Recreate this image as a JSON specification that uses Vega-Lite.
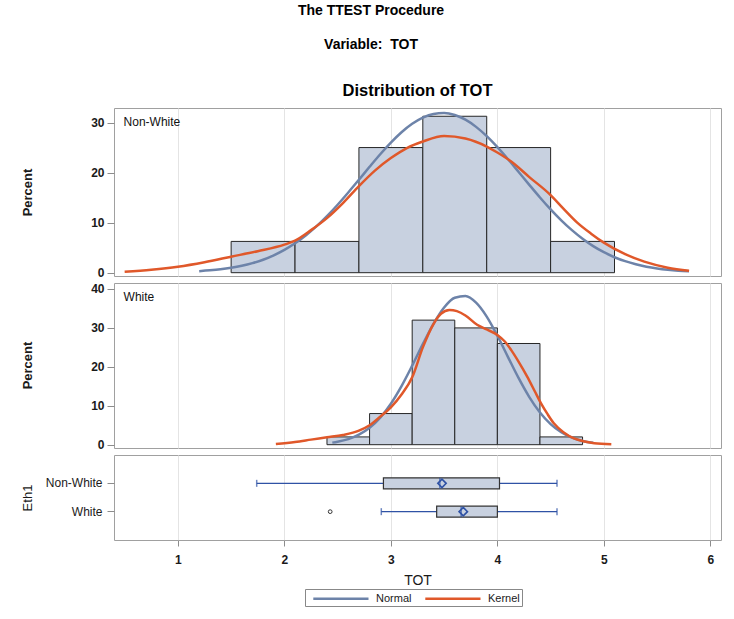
{
  "$schema": "https://vega.github.io/schema/vega-lite/v6.json",
  "padding": {"left": 20, "top": 4, "right": 10, "bottom": 10},
  "background": "white",
  "bounds": "flush",
  "title": {"text": ["The TTEST Procedure", "Variable:\u00a0 TOT"], "fontSize": 14, "fontWeight": "bold", "lineHeight": 34, "anchor": "middle", "frame": "bounds", "offset": 30, "color": "#000"},
  "datasets": {
    "hist": [
      {"g": "Non-White", "lo": 1.5, "hi": 2.1, "pct": 6.25},
      {"g": "Non-White", "lo": 2.1, "hi": 2.7, "pct": 6.25},
      {"g": "Non-White", "lo": 2.7, "hi": 3.3, "pct": 25},
      {"g": "Non-White", "lo": 3.3, "hi": 3.9, "pct": 31.25},
      {"g": "Non-White", "lo": 3.9, "hi": 4.5, "pct": 25},
      {"g": "Non-White", "lo": 4.5, "hi": 5.1, "pct": 6.25},
      {"g": "White", "lo": 2.4, "hi": 2.8, "pct": 2},
      {"g": "White", "lo": 2.8, "hi": 3.2, "pct": 8},
      {"g": "White", "lo": 3.2, "hi": 3.6, "pct": 32},
      {"g": "White", "lo": 3.6, "hi": 4.0, "pct": 30},
      {"g": "White", "lo": 4.0, "hi": 4.4, "pct": 26},
      {"g": "White", "lo": 4.4, "hi": 4.8, "pct": 2}
    ],
    "curves": [
      {"g": "Non-White", "c": "Normal", "x": 1.2, "y": 0.31},
      {"g": "Non-White", "c": "Normal", "x": 1.3, "y": 0.47},
      {"g": "Non-White", "c": "Normal", "x": 1.4, "y": 0.68},
      {"g": "Non-White", "c": "Normal", "x": 1.5, "y": 0.98},
      {"g": "Non-White", "c": "Normal", "x": 1.6, "y": 1.38},
      {"g": "Non-White", "c": "Normal", "x": 1.7, "y": 1.91},
      {"g": "Non-White", "c": "Normal", "x": 1.8, "y": 2.59},
      {"g": "Non-White", "c": "Normal", "x": 1.9, "y": 3.47},
      {"g": "Non-White", "c": "Normal", "x": 2.0, "y": 4.55},
      {"g": "Non-White", "c": "Normal", "x": 2.1, "y": 5.87},
      {"g": "Non-White", "c": "Normal", "x": 2.2, "y": 7.44},
      {"g": "Non-White", "c": "Normal", "x": 2.3, "y": 9.25},
      {"g": "Non-White", "c": "Normal", "x": 2.4, "y": 11.31},
      {"g": "Non-White", "c": "Normal", "x": 2.5, "y": 13.58},
      {"g": "Non-White", "c": "Normal", "x": 2.6, "y": 16.03},
      {"g": "Non-White", "c": "Normal", "x": 2.7, "y": 18.57},
      {"g": "Non-White", "c": "Normal", "x": 2.8, "y": 21.15},
      {"g": "Non-White", "c": "Normal", "x": 2.9, "y": 23.66},
      {"g": "Non-White", "c": "Normal", "x": 3.0, "y": 25.99},
      {"g": "Non-White", "c": "Normal", "x": 3.1, "y": 28.06},
      {"g": "Non-White", "c": "Normal", "x": 3.2, "y": 29.75},
      {"g": "Non-White", "c": "Normal", "x": 3.3, "y": 30.99},
      {"g": "Non-White", "c": "Normal", "x": 3.4, "y": 31.72},
      {"g": "Non-White", "c": "Normal", "x": 3.5, "y": 31.89},
      {"g": "Non-White", "c": "Normal", "x": 3.6, "y": 31.49},
      {"g": "Non-White", "c": "Normal", "x": 3.7, "y": 30.56},
      {"g": "Non-White", "c": "Normal", "x": 3.8, "y": 29.13},
      {"g": "Non-White", "c": "Normal", "x": 3.9, "y": 27.27},
      {"g": "Non-White", "c": "Normal", "x": 4.0, "y": 25.08},
      {"g": "Non-White", "c": "Normal", "x": 4.1, "y": 22.67},
      {"g": "Non-White", "c": "Normal", "x": 4.2, "y": 20.12},
      {"g": "Non-White", "c": "Normal", "x": 4.3, "y": 17.55},
      {"g": "Non-White", "c": "Normal", "x": 4.4, "y": 15.03},
      {"g": "Non-White", "c": "Normal", "x": 4.5, "y": 12.65},
      {"g": "Non-White", "c": "Normal", "x": 4.6, "y": 10.46},
      {"g": "Non-White", "c": "Normal", "x": 4.7, "y": 8.5},
      {"g": "Non-White", "c": "Normal", "x": 4.8, "y": 6.78},
      {"g": "Non-White", "c": "Normal", "x": 4.9, "y": 5.31},
      {"g": "Non-White", "c": "Normal", "x": 5.0, "y": 4.09},
      {"g": "Non-White", "c": "Normal", "x": 5.1, "y": 3.09},
      {"g": "Non-White", "c": "Normal", "x": 5.2, "y": 2.3},
      {"g": "Non-White", "c": "Normal", "x": 5.3, "y": 1.68},
      {"g": "Non-White", "c": "Normal", "x": 5.4, "y": 1.2},
      {"g": "Non-White", "c": "Normal", "x": 5.5, "y": 0.85},
      {"g": "Non-White", "c": "Normal", "x": 5.6, "y": 0.59},
      {"g": "Non-White", "c": "Normal", "x": 5.7, "y": 0.4},
      {"g": "Non-White", "c": "Normal", "x": 5.8, "y": 0.27},
      {"g": "Non-White", "c": "Kernel", "x": 0.5, "y": 0.2},
      {"g": "Non-White", "c": "Kernel", "x": 0.75, "y": 0.6},
      {"g": "Non-White", "c": "Kernel", "x": 1.0, "y": 1.2},
      {"g": "Non-White", "c": "Kernel", "x": 1.25, "y": 2.1},
      {"g": "Non-White", "c": "Kernel", "x": 1.5, "y": 3.2},
      {"g": "Non-White", "c": "Kernel", "x": 1.75, "y": 4.3},
      {"g": "Non-White", "c": "Kernel", "x": 2.0, "y": 5.6},
      {"g": "Non-White", "c": "Kernel", "x": 2.1, "y": 6.4},
      {"g": "Non-White", "c": "Kernel", "x": 2.25, "y": 8.5},
      {"g": "Non-White", "c": "Kernel", "x": 2.4, "y": 10.9},
      {"g": "Non-White", "c": "Kernel", "x": 2.55, "y": 13.9},
      {"g": "Non-White", "c": "Kernel", "x": 2.7, "y": 17.3},
      {"g": "Non-White", "c": "Kernel", "x": 2.85, "y": 20.4},
      {"g": "Non-White", "c": "Kernel", "x": 3.0, "y": 22.9},
      {"g": "Non-White", "c": "Kernel", "x": 3.15, "y": 24.9},
      {"g": "Non-White", "c": "Kernel", "x": 3.3, "y": 26.2},
      {"g": "Non-White", "c": "Kernel", "x": 3.5, "y": 27.3},
      {"g": "Non-White", "c": "Kernel", "x": 3.7, "y": 26.8},
      {"g": "Non-White", "c": "Kernel", "x": 3.9, "y": 25.2},
      {"g": "Non-White", "c": "Kernel", "x": 4.0, "y": 24.0},
      {"g": "Non-White", "c": "Kernel", "x": 4.13, "y": 22.2},
      {"g": "Non-White", "c": "Kernel", "x": 4.3, "y": 19.1},
      {"g": "Non-White", "c": "Kernel", "x": 4.5, "y": 15.5},
      {"g": "Non-White", "c": "Kernel", "x": 4.62, "y": 12.8},
      {"g": "Non-White", "c": "Kernel", "x": 4.75, "y": 10.0},
      {"g": "Non-White", "c": "Kernel", "x": 4.88, "y": 7.8},
      {"g": "Non-White", "c": "Kernel", "x": 5.0, "y": 6.0},
      {"g": "Non-White", "c": "Kernel", "x": 5.2, "y": 3.7},
      {"g": "Non-White", "c": "Kernel", "x": 5.38, "y": 2.2},
      {"g": "Non-White", "c": "Kernel", "x": 5.6, "y": 1.0},
      {"g": "Non-White", "c": "Kernel", "x": 5.8, "y": 0.4},
      {"g": "White", "c": "Normal", "x": 2.45, "y": 0.53},
      {"g": "White", "c": "Normal", "x": 2.5, "y": 0.75},
      {"g": "White", "c": "Normal", "x": 2.6, "y": 1.42},
      {"g": "White", "c": "Normal", "x": 2.7, "y": 2.56},
      {"g": "White", "c": "Normal", "x": 2.8, "y": 4.34},
      {"g": "White", "c": "Normal", "x": 2.9, "y": 6.96},
      {"g": "White", "c": "Normal", "x": 3.0, "y": 10.53},
      {"g": "White", "c": "Normal", "x": 3.1, "y": 15.05},
      {"g": "White", "c": "Normal", "x": 3.2, "y": 20.3},
      {"g": "White", "c": "Normal", "x": 3.3, "y": 25.84},
      {"g": "White", "c": "Normal", "x": 3.4, "y": 31.06},
      {"g": "White", "c": "Normal", "x": 3.5, "y": 35.25},
      {"g": "White", "c": "Normal", "x": 3.6, "y": 37.76},
      {"g": "White", "c": "Normal", "x": 3.7, "y": 38.2},
      {"g": "White", "c": "Normal", "x": 3.8, "y": 36.48},
      {"g": "White", "c": "Normal", "x": 3.9, "y": 32.9},
      {"g": "White", "c": "Normal", "x": 4.0, "y": 28.0},
      {"g": "White", "c": "Normal", "x": 4.1, "y": 22.5},
      {"g": "White", "c": "Normal", "x": 4.2, "y": 17.08},
      {"g": "White", "c": "Normal", "x": 4.3, "y": 12.23},
      {"g": "White", "c": "Normal", "x": 4.4, "y": 8.27},
      {"g": "White", "c": "Normal", "x": 4.5, "y": 5.28},
      {"g": "White", "c": "Normal", "x": 4.6, "y": 3.19},
      {"g": "White", "c": "Normal", "x": 4.7, "y": 1.81},
      {"g": "White", "c": "Normal", "x": 4.8, "y": 0.97},
      {"g": "White", "c": "Normal", "x": 4.9, "y": 0.49},
      {"g": "White", "c": "Kernel", "x": 1.92, "y": 0.2},
      {"g": "White", "c": "Kernel", "x": 2.1, "y": 0.7},
      {"g": "White", "c": "Kernel", "x": 2.25, "y": 1.3},
      {"g": "White", "c": "Kernel", "x": 2.4, "y": 1.9},
      {"g": "White", "c": "Kernel", "x": 2.55, "y": 2.5},
      {"g": "White", "c": "Kernel", "x": 2.7, "y": 3.6},
      {"g": "White", "c": "Kernel", "x": 2.8, "y": 5.0},
      {"g": "White", "c": "Kernel", "x": 2.9, "y": 7.2},
      {"g": "White", "c": "Kernel", "x": 3.0, "y": 9.6},
      {"g": "White", "c": "Kernel", "x": 3.1, "y": 12.9},
      {"g": "White", "c": "Kernel", "x": 3.2, "y": 17.3},
      {"g": "White", "c": "Kernel", "x": 3.3, "y": 25.0},
      {"g": "White", "c": "Kernel", "x": 3.4, "y": 31.0},
      {"g": "White", "c": "Kernel", "x": 3.47, "y": 33.6},
      {"g": "White", "c": "Kernel", "x": 3.55, "y": 34.6},
      {"g": "White", "c": "Kernel", "x": 3.62, "y": 34.3},
      {"g": "White", "c": "Kernel", "x": 3.7, "y": 33.2},
      {"g": "White", "c": "Kernel", "x": 3.81, "y": 30.8},
      {"g": "White", "c": "Kernel", "x": 3.9, "y": 29.6},
      {"g": "White", "c": "Kernel", "x": 4.0, "y": 28.2},
      {"g": "White", "c": "Kernel", "x": 4.07, "y": 26.5},
      {"g": "White", "c": "Kernel", "x": 4.13, "y": 24.3},
      {"g": "White", "c": "Kernel", "x": 4.2, "y": 21.3},
      {"g": "White", "c": "Kernel", "x": 4.28, "y": 17.5},
      {"g": "White", "c": "Kernel", "x": 4.35, "y": 13.8},
      {"g": "White", "c": "Kernel", "x": 4.41, "y": 10.6},
      {"g": "White", "c": "Kernel", "x": 4.47, "y": 7.9},
      {"g": "White", "c": "Kernel", "x": 4.53, "y": 5.5},
      {"g": "White", "c": "Kernel", "x": 4.62, "y": 3.2},
      {"g": "White", "c": "Kernel", "x": 4.72, "y": 1.6},
      {"g": "White", "c": "Kernel", "x": 4.82, "y": 0.8},
      {"g": "White", "c": "Kernel", "x": 4.91, "y": 0.35},
      {"g": "White", "c": "Kernel", "x": 5.07, "y": 0.1}
    ],
    "box": [
      {"g": "Non-White", "min": 1.74, "q1": 2.93, "med": 3.46, "q3": 4.02, "max": 4.56, "mean": 3.48},
      {"g": "White", "min": 2.91, "q1": 3.43, "med": 3.66, "q3": 4.0, "max": 4.56, "mean": 3.68}
    ],
    "outliers": [
      {"g": "White", "v": 2.43}
    ]
  },
  "vconcat": [
    {
      "width": 607,
      "height": 168,
      "title": {"text": "Distribution of TOT", "fontSize": 16.5, "fontWeight": "bold", "offset": 9, "color": "#000", "anchor": "middle"},
      "layer": [
        {
          "data": {"name": "hist"},
          "transform": [{"filter": "datum.g === 'Non-White'"}],
          "mark": {"type": "rect", "fill": "#c8d1e0", "stroke": "#262626", "strokeWidth": 1},
          "encoding": {
            "x": {"field": "lo", "type": "quantitative", "scale": {"domain": [0.4, 6.1], "nice": false, "zero": false},
                  "axis": {"values": [1, 2, 3, 4, 5, 6], "labels": false, "ticks": false, "domain": false, "title": null, "grid": true}},
            "x2": {"field": "hi"},
            "y": {"field": "pct", "type": "quantitative", "scale": {"domain": [-0.66, 32.9], "nice": false, "zero": false},
                  "axis": {"values": [0, 10, 20, 30], "title": "Percent", "titleFontWeight": "bold", "titleFontSize": 13, "labelFontWeight": "bold", "labelFontSize": 12, "grid": false, "domain": false, "tickSize": 7, "labelPadding": 3, "titleX": -80, "titleY": 84}},
            "y2": {"datum": 0}
          }
        },
        {
          "data": {"name": "curves"},
          "transform": [{"filter": "datum.g === 'Non-White'"}],
          "mark": {"type": "line", "interpolate": "monotone", "strokeWidth": 2.5},
          "encoding": {
            "x": {"field": "x", "type": "quantitative"},
            "y": {"field": "y", "type": "quantitative"},
            "color": {"field": "c", "type": "nominal", "scale": {"domain": ["Normal", "Kernel"], "range": ["#6d83a9", "#e0582a"]},
                      "legend": {"orient": "none", "legendX": 191, "legendY": 481, "direction": "horizontal", "title": null, "symbolType": "M-0.2,0L9,0", "symbolSize": 144, "symbolStrokeWidth": 2.5, "labelFontSize": 11, "strokeColor": "#888", "padding": 2, "columnPadding": 7, "labelOffset": 54}}
          }
        },
        {
          "data": {"values": [{"label": "Non-White"}]},
          "mark": {"type": "text", "align": "left", "baseline": "middle", "fontSize": 12, "color": "#111"},
          "encoding": {"x": {"datum": 0.49}, "y": {"datum": 30.1}, "text": {"field": "label"}}
        }
      ]
    },
    {
      "width": 607,
      "height": 165,
      "layer": [
        {
          "data": {"name": "hist"},
          "transform": [{"filter": "datum.g === 'White'"}],
          "mark": {"type": "rect", "fill": "#c8d1e0", "stroke": "#262626", "strokeWidth": 1},
          "encoding": {
            "x": {"field": "lo", "type": "quantitative", "scale": {"domain": [0.4, 6.1], "nice": false, "zero": false},
                  "axis": {"values": [1, 2, 3, 4, 5, 6], "labels": false, "ticks": false, "domain": false, "title": null, "grid": true}},
            "x2": {"field": "hi"},
            "y": {"field": "pct", "type": "quantitative", "scale": {"domain": [-0.85, 41.54], "nice": false, "zero": false},
                  "axis": {"values": [0, 10, 20, 30, 40], "title": "Percent", "titleFontWeight": "bold", "titleFontSize": 13, "labelFontWeight": "bold", "labelFontSize": 12, "grid": false, "domain": false, "tickSize": 7, "labelPadding": 3, "titleX": -80, "titleY": 82}},
            "y2": {"datum": 0}
          }
        },
        {
          "data": {"name": "curves"},
          "transform": [{"filter": "datum.g === 'White'"}],
          "mark": {"type": "line", "interpolate": "monotone", "strokeWidth": 2.5},
          "encoding": {
            "x": {"field": "x", "type": "quantitative"},
            "y": {"field": "y", "type": "quantitative"},
            "color": {"field": "c", "type": "nominal", "scale": {"domain": ["Normal", "Kernel"], "range": ["#6d83a9", "#e0582a"]},
                      "legend": {"orient": "none", "legendX": 191, "legendY": 481, "direction": "horizontal", "title": null, "symbolType": "M-0.2,0L9,0", "symbolSize": 144, "symbolStrokeWidth": 2.5, "labelFontSize": 11, "strokeColor": "#888", "padding": 2, "columnPadding": 7, "labelOffset": 54}}
          }
        },
        {
          "data": {"values": [{"label": "White"}]},
          "mark": {"type": "text", "align": "left", "baseline": "middle", "fontSize": 12, "color": "#111"},
          "encoding": {"x": {"datum": 0.49}, "y": {"datum": 37.9}, "text": {"field": "label"}}
        }
      ]
    },
    {
      "width": 607,
      "height": 85,
      "data": {"name": "box"},
      "layer": [
        {
          "mark": {"type": "rule", "color": "#2f52a5", "strokeWidth": 1.2},
          "encoding": {
            "x": {"field": "min", "type": "quantitative", "scale": {"domain": [0.4, 6.1], "nice": false, "zero": false},
                  "axis": {"values": [1, 2, 3, 4, 5, 6], "format": "d", "title": "TOT", "titleFontSize": 14, "titleFontWeight": "normal", "labelFontWeight": "bold", "labelFontSize": 12, "grid": true, "domain": false, "tickSize": 6, "labelPadding": 8, "titlePadding": 8}},
            "x2": {"field": "max"},
            "y": {"field": "g", "type": "nominal", "scale": {"domain": ["Non-White", "White"], "paddingInner": 0, "paddingOuter": 0.5},
                  "axis": {"title": "Eth1", "titleFontWeight": "normal", "titleFontSize": 13, "labelFontSize": 12, "domain": false, "tickSize": 7, "labelPadding": 5, "titleX": -80, "titleY": 42.5, "grid": false}}
          }
        },
        {
          "mark": {"type": "bar", "size": 11, "fill": "#c8d1e0", "stroke": "#333", "strokeWidth": 1.2},
          "encoding": {
            "x": {"field": "q1", "type": "quantitative"},
            "x2": {"field": "q3"},
            "y": {"field": "g", "type": "nominal"}
          }
        },
        {
          "mark": {"type": "tick", "size": 7, "thickness": 1.5, "color": "#2f52a5"},
          "encoding": {"x": {"field": "min", "type": "quantitative"}, "y": {"field": "g", "type": "nominal"}}
        },
        {
          "mark": {"type": "tick", "size": 7, "thickness": 1.5, "color": "#2f52a5"},
          "encoding": {"x": {"field": "max", "type": "quantitative"}, "y": {"field": "g", "type": "nominal"}}
        },
        {
          "mark": {"type": "tick", "size": 11, "thickness": 1.5, "color": "#2f52a5"},
          "encoding": {"x": {"field": "med", "type": "quantitative"}, "y": {"field": "g", "type": "nominal"}}
        },
        {
          "mark": {"type": "point", "shape": "diamond", "size": 70, "filled": false, "strokeWidth": 1.6, "color": "#2f52a5", "opacity": 1},
          "encoding": {"x": {"field": "mean", "type": "quantitative"}, "y": {"field": "g", "type": "nominal"}}
        },
        {
          "data": {"name": "outliers"},
          "mark": {"type": "point", "shape": "circle", "size": 14, "filled": false, "strokeWidth": 1, "color": "#333", "opacity": 1},
          "encoding": {"x": {"field": "v", "type": "quantitative"}, "y": {"field": "g", "type": "nominal"}}
        }
      ]
    }
  ],
  "spacing": 7,
  "config": {
    "font": "Liberation Sans",
    "view": {"stroke": "#a0a0a0", "strokeWidth": 1},
    "axis": {"labelColor": "#1a1a1a", "titleColor": "#1a1a1a", "tickColor": "#8c8c8c", "gridColor": "#e4e4e4"},
    "legend": {"labelColor": "#1a1a1a"}
  }
}
